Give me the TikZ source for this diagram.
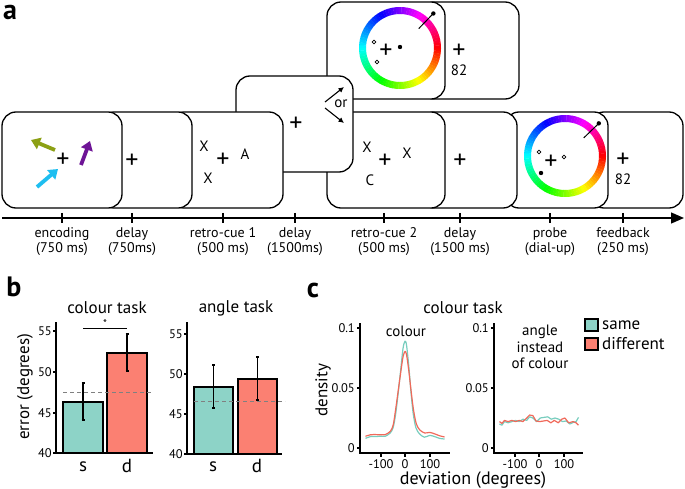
\documentclass[tikz,border=0pt]{standalone}
\usepackage{fontspec}
\setmainfont{PT Sans}
\usetikzlibrary{arrows.meta,calc}
\definecolor{tealc}{RGB}{141,211,199}
\definecolor{salm}{RGB}{251,128,114}
\definecolor{tealline}{RGB}{120,205,190}
\definecolor{redline}{RGB}{240,105,90}
\definecolor{arrgreen}{RGB}{140,160,20}
\definecolor{arrcyan}{RGB}{30,190,240}
\definecolor{arrpurple}{RGB}{110,20,150}
\newcommand{\hueRing}{%
  \foreach \a in {0,4,...,356}{%
    \pgfmathsetmacro{\b}{\a+4.4}%
    \pgfmathsetmacro{\h}{mod(\a+2,360)}%
    \definecolor{wc}{Hsb}{\h,1,1}%
    \fill[wc] (\a:34) -- (\b:34) -- (\b:41) -- (\a:41) -- cycle;
  }}
\begin{document}
\begin{tikzpicture}[x=1pt,y=-1pt,
  card/.style={draw,line width=1.3pt,rounded corners=14pt,fill=white},
  fixc/.style={font=\fontsize{26}{26}\selectfont,inner sep=0pt},
  lett/.style={font=\fontsize{15}{15}\selectfont,inner sep=0pt},
  tlab/.style={font=\fontsize{14}{15.5}\selectfont,align=center,anchor=north,inner sep=0pt},
  plabel/.style={font=\fontsize{28}{28}\bfseries\selectfont,inner sep=0pt},
  ttl/.style={font=\fontsize{17}{17}\selectfont,inner sep=0pt},
  tick/.style={font=\fontsize{12.5}{12.5}\selectfont,inner sep=0pt},
  axisl/.style={line width=1.2pt},
  barb/.style={draw,line width=1.2pt},
  errb/.style={line width=1.2pt},
  refl/.style={gray,line width=0.8pt,dash pattern=on 4pt off 3pt},
  encarr/.style={line width=3.8pt,-{Triangle[length=9pt,width=12pt]}},
  orarr/.style={line width=1.1pt,-{Latex[length=5.5pt,width=5.5pt]}},
  opendot/.style={draw,line width=0.7pt,fill=white},
  curv/.style={line width=1.2pt,line join=round}
]
\useasboundingbox (0,0) rectangle (685,489);

% ---------- panel a ----------
\node[plabel] (la) at (10,12) {a};

% top row (back to front)
\draw[card] (420,2) rectangle (519,99);
\node[fixc] (tfbp) at (459,51) {+};
\node[lett] (tfbn) at (459,70) {82};
\draw[card] (327,2) rectangle (445,99);
\begin{scope}[shift={(400,48)}]
  \hueRing
  \draw[line width=1pt] (-46:27) -- (-46:48);
  \fill (-46:48) circle (2.2);
\end{scope}
\node[fixc] (tpp) at (386,51) {+};
\draw[opendot] (374,42) circle (1.9);
\draw[opendot] (377,62) circle (1.9);
\fill (400,47) circle (2.2);

% bottom row (back to front)
\draw[card] (590,112) rectangle (683,208);
\node[fixc] (fbp) at (623,160) {+};
\node[lett] (fbn) at (623,179) {82};
\draw[card] (505,112) rectangle (608,208);
\begin{scope}[shift={(565,156)}]
  \hueRing
  \draw[line width=1pt] (-44:26) -- (-44:47);
  \fill (-44:47) circle (2.2);
\end{scope}
\node[fixc] (prp) at (551,162) {+};
\draw[opendot] (539,152) circle (1.9);
\draw[opendot] (564,157) circle (1.9);
\fill (541,173) circle (2.2);

\draw[card] (420,112) rectangle (517,208);
\node[fixc] (d3p) at (460,161) {+};
\draw[card] (327,112) rectangle (445,208);
\node[lett] (r2x1) at (367,147) {X};
\node[lett] (r2c) at (370,180) {C};
\node[fixc] (r2p) at (385,161) {+};
\node[lett] (r2x2) at (407,153) {X};

\draw[card] (236,76) rectangle (353,172);
\node[fixc] (d2p) at (296,124) {+};
\coordinate (orvu) at (325,102);
\coordinate (orvd) at (325,108);
\coordinate (oru) at (344,87);
\coordinate (ord) at (344,123);
\draw[orarr] (orvu) -- (oru);
\draw[orarr] (orvd) -- (ord);
\node[lett] (ortext) at (341,104) {or};

\draw[card] (170,112) rectangle (283,208);
\node[lett] (r1x1) at (204,146) {X};
\node[lett] (r1x2) at (208,178) {X};
\node[fixc] (r1p) at (223,160) {+};
\node[lett] (r1a) at (245,154) {A};

\draw[card] (100,112) rectangle (192,208);
\node[fixc] (d1p) at (132,161) {+};

\draw[card] (2,112) rectangle (122,208);
\node[fixc] (encp) at (63,160) {+};
\coordinate (gt) at (55,150); \coordinate (gh) at (31,140);
\coordinate (ct) at (37,187); \coordinate (ch) at (58,169);
\coordinate (pt) at (81,165); \coordinate (ph) at (90,141);
\draw[encarr,arrgreen] (gt) -- (gh);
\draw[encarr,arrcyan] (ct) -- (ch);
\draw[encarr,arrpurple] (pt) -- (ph);

% time axis
\coordinate (ax0) at (2,218);
\coordinate (ax1) at (684,218);
\draw[line width=1.3pt,-{Triangle[length=13pt,width=11pt]}] (ax0) -- (ax1);
\foreach \x/\nm/\t in {62/t1/{encoding\\(750 ms)},132/t2/{delay\\(750ms)},223/t3/{retro-cue 1\\(500 ms)},295/t4/{delay\\(1500ms)},384/t5/{retro-cue 2\\(500 ms)},460/t6/{delay\\(1500 ms)},550/t7/{probe\\(dial-up)},623/t8/{feedback\\(250 ms)}}{
  \draw[line width=1.2pt] (\x,213) -- (\x,223);
  \node[tlab] (\nm) at (\x,227) {\t};
}

% ---------- panel b ----------
\node[plabel] (lb) at (14,287) {b};
\node[ttl] (bt1) at (107,308) {colour task};
\node[ttl] (bt2) at (236,308) {angle task};
\node[ttl,rotate=90] (bylab) at (25,387) {error (degrees)};

% colour task
\draw[axisl] (56,322) -- (56,453) -- (153,453);
\foreach \yy/\v in {331/55,372/50,413/45,453/40}{
  \draw[axisl] (53,\yy) -- (56,\yy);
  \node[tick,anchor=east] at (52,\yy) {\v};
}
\draw[barb,fill=tealc] (63,453) rectangle (103,402);
\draw[barb,fill=salm] (107,453) rectangle (147,353);
\draw[refl] (63,392) -- (153,392);
\draw[errb] (83,383) -- (83,420) (81.5,383) -- (84.5,383) (81.5,420) -- (84.5,420);
\draw[errb] (127,334) -- (127,371) (125.5,334) -- (128.5,334) (125.5,371) -- (128.5,371);
\draw[line width=0.9pt] (83,328) -- (127,328);
\node[tick,font=\fontsize{11}{11}\selectfont] (star) at (105,323.5) {*};
\node[ttl,font=\fontsize{19}{19}\selectfont] (bs1) at (83,467) {s};
\node[ttl,font=\fontsize{19}{19}\selectfont] (bd1) at (127,466) {d};

% angle task
\draw[axisl] (187,322) -- (187,454) -- (282,454);
\foreach \yy/\v in {334/55,374/50,414/45,454/40}{
  \draw[axisl] (184,\yy) -- (187,\yy);
  \node[tick,anchor=east] at (183,\yy) {\v};
}
\draw[barb,fill=tealc] (194,454) rectangle (233,387);
\draw[barb,fill=salm] (238,454) rectangle (277,379);
\draw[refl] (194,401) -- (285,401);
\draw[errb] (213.5,365) -- (213.5,408) (212,365) -- (215,365) (212,408) -- (215,408);
\draw[errb] (257.5,357) -- (257.5,400) (256,357) -- (259,357) (256,400) -- (259,400);
\node[ttl,font=\fontsize{19}{19}\selectfont] (bs2) at (213,467) {s};
\node[ttl,font=\fontsize{19}{19}\selectfont] (bd2) at (257,466) {d};

% ---------- panel c ----------
\node[plabel] (lc) at (313,290) {c};
\node[ttl] (ct1) at (463,308) {colour task};
\node[ttl,rotate=90] (cylab) at (323,390) {density};
\node[ttl,font=\fontsize{18}{18}\selectfont] (cxlab) at (473,480) {deviation (degrees)};

% plot 1
\draw[axisl] (360,323) -- (360,453) -- (450,453);
\foreach \yy/\v in {328/0.1,388/0.05,448/0}{
  \draw[axisl] (357,\yy) -- (360,\yy);
  \node[tick,anchor=east] at (355,\yy) {\v};
}
\foreach \xx/\v in {381/-100,405/0,430/100}{
  \draw[axisl] (\xx,453) -- (\xx,457);
  \node[tick] at (\xx,464) {\v};
}
\node[lett] (c1t) at (406,331) {colour};
\begin{scope}[shift={(405,448)},xscale=0.247,yscale=-1200]
\draw[curv,tealline] plot[smooth,tension=0.5] coordinates {(-160,0.008) (-140,0.0095) (-120,0.0095) (-100,0.0098) (-80,0.0098) (-60,0.0125) (-48,0.017) (-38,0.028) (-28,0.045) (-18,0.064) (-8,0.083) (0,0.089) (6,0.086) (15,0.069) (24,0.047) (33,0.029) (44,0.017) (58,0.012) (78,0.009) (100,0.0105) (120,0.0095) (140,0.008) (160,0.0075)};
\draw[curv,redline] plot[smooth,tension=0.5] coordinates {(-160,0.0098) (-140,0.011) (-120,0.0112) (-100,0.011) (-80,0.0112) (-60,0.0138) (-48,0.019) (-38,0.032) (-28,0.047) (-18,0.062) (-8,0.076) (0,0.0805) (6,0.078) (15,0.065) (25,0.047) (35,0.031) (46,0.020) (60,0.015) (80,0.0125) (100,0.013) (120,0.0118) (140,0.0102) (160,0.0092)};
\end{scope}

% plot 2
\draw[axisl] (494,323) -- (494,453) -- (583,453);
\foreach \yy/\v in {328/0.1,388/0.05,448/0}{
  \draw[axisl] (491,\yy) -- (494,\yy);
  \node[tick,anchor=east] at (489,\yy) {\v};
}
\foreach \xx/\v in {515/-100,539/0,564/100}{
  \draw[axisl] (\xx,453) -- (\xx,457);
  \node[tick] at (\xx,464) {\v};
}
\node[lett,font=\fontsize{15}{16.5}\selectfont,align=center] (c2t) at (540,347) {angle\\instead\\of colour};
\begin{scope}[shift={(539,448)},xscale=0.247,yscale=-1200]
\draw[curv,tealline] plot coordinates {(-160,0.020) (-150,0.019) (-140,0.022) (-125,0.021) (-110,0.022) (-95,0.023) (-80,0.022) (-65,0.024) (-50,0.023) (-38,0.026) (-25,0.025) (-10,0.022) (5,0.025) (20,0.0255) (35,0.026) (50,0.024) (65,0.025) (80,0.024) (95,0.022) (110,0.0225) (125,0.020) (140,0.0215) (150,0.022) (160,0.0255)};
\draw[curv,redline] plot coordinates {(-160,0.022) (-150,0.0205) (-140,0.023) (-125,0.022) (-110,0.023) (-95,0.022) (-80,0.023) (-65,0.022) (-50,0.025) (-38,0.0275) (-25,0.027) (-12,0.0225) (3,0.022) (18,0.0225) (33,0.023) (48,0.021) (62,0.023) (78,0.021) (92,0.024) (105,0.025) (120,0.021) (138,0.022) (150,0.021) (160,0.019)};
\end{scope}

% legend
\draw[line width=1.1pt,fill=tealc] (585,319) rectangle (598,331);
\node[ttl,anchor=west] (lsame) at (602,325) {same};
\draw[line width=1.1pt,fill=salm] (585,338) rectangle (598,350);
\node[ttl,anchor=west] (ldiff) at (602,344) {different};
\end{tikzpicture}
\end{document}
